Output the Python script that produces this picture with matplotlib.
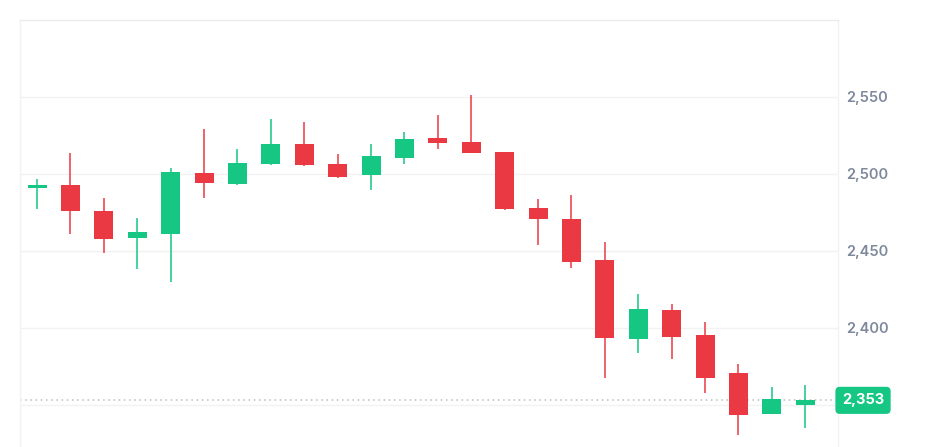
import matplotlib.pyplot as plt
from matplotlib.transforms import blended_transform_factory

# OHLC values (24 candles)
opens = [2491, 2493, 2476, 2458.6, 2461, 2500.6, 2493.5, 2506.5, 2519.5, 2506.5, 2499.2, 2510.6,
         2523.6, 2521, 2514.5, 2477.9, 2470.6, 2443.9, 2392.8, 2411.5, 2395.2, 2370.8, 2344.1, 2350]
highs = [2496.6, 2513.6, 2484.4, 2471.4, 2503.9, 2529.2, 2516.2, 2535.7, 2534, 2513, 2519.5, 2527.5,
         2538.1, 2551.1, 2514.5, 2483.8, 2486.2, 2456, 2422.1, 2415.6, 2404.1, 2376.6, 2361.9, 2362.8]
lows = [2477.3, 2461, 2448.9, 2438.3, 2430.1, 2484.6, 2493, 2506, 2505, 2497.6, 2489.4, 2506.5,
        2516.2, 2513.8, 2476.4, 2453.7, 2439.1, 2367.7, 2384, 2379.9, 2358, 2330.3, 2344, 2335.3]
closes = [2492.7, 2475.8, 2457.8, 2462.5, 2501.5, 2494.4, 2507.1, 2519.5, 2505.6, 2498.2, 2511.5, 2522.7,
          2520.3, 2513.8, 2477.3, 2470.8, 2443, 2393.7, 2412.1, 2394.3, 2367.7, 2343.3, 2353.9, 2353]
last_price = 2353
y_ticks = [2400, 2450, 2500, 2550]
grid_levels = [2350, 2400, 2450, 2500, 2550]

GREEN = "#16C784"
RED = "#EA3943"
LABEL = "#7F899C"

plt.rcParams['font.family'] = ['Inter', 'DejaVu Sans']

fig = plt.figure(figsize=(9.35, 4.47), dpi=100)
ax = fig.add_axes([20 / 935, 0, 818 / 935, 427 / 447])

for g in grid_levels:
    ax.axhline(g, color="#F2F2F2", lw=1, zorder=0)

x = range(len(opens))
colors = [GREEN if c >= o else RED for o, c in zip(opens, closes)]
bottoms = [min(o, c) for o, c in zip(opens, closes)]
heights = [max(abs(c - o), 1.3) for o, c in zip(opens, closes)]

ax.vlines(x, lows, highs, colors=colors, lw=1.1, zorder=2)
ax.bar(x, heights, bottom=bottoms, width=0.57, color=colors, zorder=3)

# last price dotted line
ax.axhline(last_price, color="#BDBDBD", lw=1.1, linestyle=(0, (1, 2.4)), zorder=1)

ax.set_xlim(-0.51, 23.98)
ax.set_ylim(2322.7, 2600)

ax.set_xticks([])
ax.set_yticks(y_ticks)
ax.set_yticklabels([f"{v:,}" for v in y_ticks])
ax.yaxis.tick_right()
ax.tick_params(axis='y', length=0, pad=5.5, labelsize=10.5, labelcolor=LABEL)
for lbl in ax.get_yticklabels():
    lbl.set_fontweight('semibold')

ax.spines['bottom'].set_visible(False)
ax.spines['top'].set_color("#EBEBEB")
ax.spines['left'].set_color("#F2F2F2")
ax.spines['right'].set_color("#F2F2F2")
for s in ['top', 'left', 'right']:
    ax.spines[s].set_linewidth(1)

trans = blended_transform_factory(ax.transAxes, ax.transData)
ax.text(1.0306, last_price, f"{last_price:,}", transform=trans, ha='center', va='center',
        color='white', fontsize=10.5, fontweight='bold', zorder=5, clip_on=False,
        bbox=dict(boxstyle='round,pad=0.45,rounding_size=0.3', fc=GREEN, ec='none'))

fig.savefig("out.png", dpi=100)
